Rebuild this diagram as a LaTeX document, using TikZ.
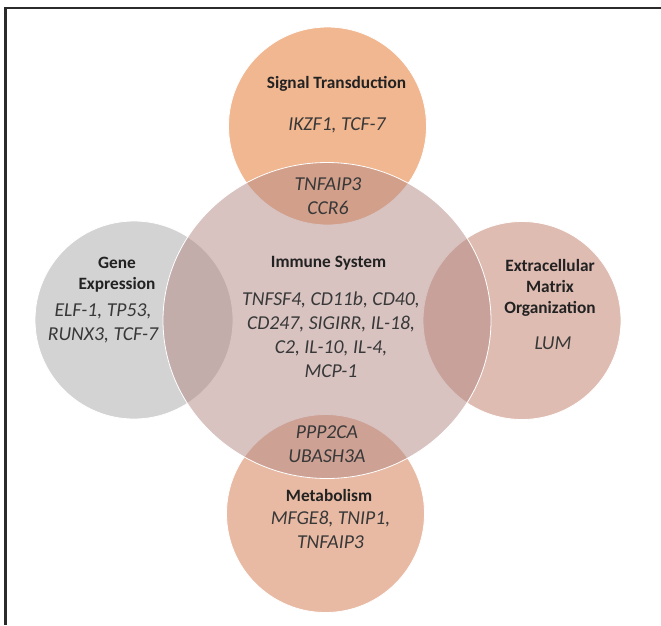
\documentclass[tikz,border=0pt]{standalone}
\usepackage{fontspec}
\setmainfont{Carlito}
\usetikzlibrary{shapes.geometric}

\definecolor{framecol}{HTML}{2B2B2B}
\definecolor{signalfill}{HTML}{F1B791}
\definecolor{genefill}{HTML}{D3D3D3}
\definecolor{matrixfill}{HTML}{DFBCB1}
\definecolor{metabfill}{HTML}{E8BAA4}
\definecolor{immunefill}{HTML}{B38985}
\definecolor{headtext}{HTML}{222222}
\definecolor{genetext}{HTML}{383838}

\begin{document}
\begin{tikzpicture}[x=1pt, y=-1pt,
  bubble/.style={circle, draw=white, line width=0.8pt, minimum size=198pt, inner sep=0pt},
  heading/.style={font=\bfseries\fontsize{17.3}{21}\selectfont, text=headtext, align=center, inner sep=0pt},
  genes/.style={font=\itshape\fontsize{19.7}{24}\selectfont, text=genetext, align=center, inner sep=0pt}]

  % --- Page and frame ---
  \useasboundingbox (0,0) rectangle (661,625);
  \fill[white] (0,0) rectangle (661,625);
  \coordinate (frameend) at (661,8);
  \coordinate (framecorner) at (5.5,8);
  \coordinate (framefoot) at (5.5,625);
  \draw[framecol, line width=2.5pt] (frameend) -- (framecorner) -- (framefoot);

  % --- Outer circles ---
  \node[bubble, fill=signalfill] (signal) at (327.5,126) {};
  \node[bubble, fill=genefill] (gene) at (134,320) {};
  \node[bubble, fill=matrixfill] (matrix) at (522,320.5) {};
  \node[bubble, fill=metabfill] (metab) at (325.5,513.5) {};

  % --- Central circle, see-through ---
  \node[ellipse, draw=white, line width=0.8pt, fill=immunefill, fill opacity=0.5,
        minimum width=328pt, minimum height=316pt, inner sep=0pt] (immune) at (327,320.5) {};

  % --- Signal Transduction ---
  \node[heading] (signaltitle) at (336.5,84) {Signal Transduction};
  \node[genes] (signalgenes) at (337,125) {IKZF1, TCF-7};
  \node[genes] (signalshared) at (328,196.5) {TNFAIP3\\CCR6};

  % --- Immune System ---
  \node[heading] (immunetitle) at (328.5,263) {Immune System};
  \node[genes] (immunegenes) at (331,334.5) {TNFSF4, CD11b, CD40,\\CD247, SIGIRR, IL-18,\\C2, IL-10, IL-4,\\MCP-1};

  % --- Gene Expression ---
  \node[heading] (genetitle) at (117,274.5) {Gene\\Expression};
  \node[genes] (genegenes) at (103,323) {ELF-1, TP53,\\RUNX3, TCF-7};

  % --- Extracellular Matrix Organization ---
  \node[heading] (matrixtitle) at (550,288) {Extracellular\\Matrix\\Organization};
  \node[genes] (matrixgenes) at (553,343.5) {LUM};

  % --- Metabolism ---
  \node[genes] (metabshared) at (327,444) {PPP2CA\\UBASH3A};
  \node[heading] (metabtitle) at (329,495) {Metabolism};
  \node[genes] (metabgenes) at (330.5,529.5) {MFGE8, TNIP1,\\TNFAIP3};

\end{tikzpicture}
\end{document}
